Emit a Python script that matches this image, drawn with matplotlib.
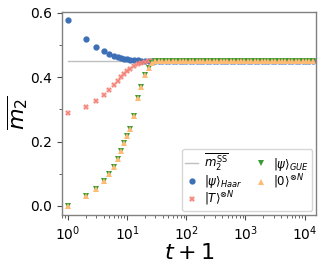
import matplotlib
matplotlib.use("Agg")
import matplotlib.pyplot as plt
from matplotlib.ticker import MultipleLocator

# time grid (t + 1)
t1 = [1, 2, 3, 4, 5, 6, 7, 8, 9, 10, 11,
      13, 15, 17, 20, 23, 26, 30, 34, 39, 45,
      51, 59, 67, 77, 88, 100, 115, 131, 150, 171,
      195, 223, 255, 291, 332, 380, 434, 495, 566, 646,
      738, 843, 963, 1100, 1256, 1435, 1639, 1872, 2138, 2442,
      2789, 3186, 3639, 4156, 4747, 5422, 6193, 7073, 8079, 9228,
      10540, 12039, 13750]

m2_ss = 0.45

haar = [0.577, 0.519, 0.495, 0.482, 0.473, 0.467, 0.4625, 0.460, 0.458, 0.456, 0.455,
        0.453, 0.452, 0.451, 0.4505, 0.450, 0.450, 0.450, 0.450, 0.450, 0.450,
        0.450, 0.450, 0.450, 0.450, 0.450, 0.450, 0.450, 0.450, 0.450, 0.450,
        0.450, 0.450, 0.450, 0.450, 0.450, 0.450, 0.450, 0.450, 0.450, 0.450,
        0.450, 0.450, 0.450, 0.450, 0.450, 0.450, 0.450, 0.450, 0.450, 0.450,
        0.450, 0.450, 0.450, 0.450, 0.450, 0.450, 0.450, 0.450, 0.450, 0.450,
        0.450, 0.450, 0.450]

tstate = [0.288, 0.307, 0.327, 0.344, 0.361, 0.375, 0.388, 0.400, 0.410, 0.420, 0.427,
          0.434, 0.440, 0.445, 0.448, 0.450, 0.450, 0.450, 0.450, 0.450, 0.450,
          0.450, 0.450, 0.450, 0.450, 0.450, 0.450, 0.450, 0.450, 0.450, 0.450,
          0.450, 0.450, 0.450, 0.450, 0.450, 0.450, 0.450, 0.450, 0.450, 0.450,
          0.450, 0.450, 0.450, 0.450, 0.450, 0.450, 0.450, 0.450, 0.450, 0.450,
          0.450, 0.450, 0.450, 0.450, 0.450, 0.450, 0.450, 0.450, 0.450, 0.450,
          0.450, 0.450, 0.450]

gue = [0.000, 0.030, 0.052, 0.076, 0.100, 0.122, 0.146, 0.170, 0.196, 0.216, 0.2375,
       0.279, 0.336, 0.370, 0.406, 0.429, 0.443, 0.449, 0.450, 0.450, 0.450,
       0.450, 0.450, 0.450, 0.450, 0.450, 0.450, 0.450, 0.450, 0.450, 0.450,
       0.450, 0.450, 0.450, 0.450, 0.450, 0.450, 0.450, 0.450, 0.450, 0.450,
       0.450, 0.450, 0.450, 0.450, 0.450, 0.450, 0.450, 0.450, 0.450, 0.450,
       0.450, 0.450, 0.450, 0.450, 0.450, 0.450, 0.450, 0.450, 0.450, 0.450,
       0.450, 0.450, 0.450]

zero = [0.000, 0.030, 0.052, 0.076, 0.100, 0.122, 0.146, 0.170, 0.196, 0.216, 0.2375,
        0.279, 0.336, 0.370, 0.406, 0.429, 0.443, 0.449, 0.450, 0.450, 0.450,
        0.450, 0.450, 0.450, 0.450, 0.450, 0.450, 0.450, 0.450, 0.450, 0.450,
        0.450, 0.450, 0.450, 0.450, 0.450, 0.450, 0.450, 0.450, 0.450, 0.450,
        0.450, 0.450, 0.450, 0.450, 0.450, 0.450, 0.450, 0.450, 0.450, 0.450,
        0.450, 0.450, 0.450, 0.450, 0.450, 0.450, 0.450, 0.450, 0.450, 0.450,
        0.450, 0.450, 0.450]

fig = plt.figure(figsize=(3.24, 2.70), dpi=100)
ax = fig.add_axes([0.191, 0.204, 0.784, 0.752])

ax.plot([t1[0], t1[-1]], [m2_ss, m2_ss], color="0.75", lw=1.0,
        label=r"$\overline{m_2^{\mathrm{SS}}}$")
ax.plot(t1, haar, "o", ms=3.5, color="#3d6fb6", ls="none",
        label=r"$|\psi\rangle_{Haar}$")
ax.plot(t1, tstate, "X", ms=4.2, color="#f4847a", mew=0, ls="none",
        label=r"$|T\rangle^{\otimes N}$")
ax.plot(t1, gue, "v", ms=4.2, color="#3a9a35", mew=0, ls="none",
        label=r"$|\psi\rangle_{GUE}$")
ax.plot(t1, zero, "^", ms=4.2, color="#fdbb74", mew=0, ls="none",
        label=r"$|0\rangle^{\otimes N}$")

ax.set_xscale("log")
ax.set_xlim(0.79, 1.55e4)
ax.set_ylim(-0.028, 0.603)
ax.yaxis.set_major_locator(MultipleLocator(0.2))
ax.yaxis.set_minor_locator(MultipleLocator(0.1))

for s in ax.spines.values():
    s.set_color("0.5")
    s.set_linewidth(1.0)
ax.tick_params(which="major", labelsize=10, length=3.5, color="0.3", width=0.8)
ax.tick_params(which="minor", length=2, color="0.3", width=0.6)

ax.set_xlabel(r"$t+1$", fontsize=16, labelpad=0)
ax.set_ylabel(r"$\overline{m_2}$", fontsize=16, labelpad=0)

ax.legend(loc="lower right", ncol=2, fontsize=8.5, handlelength=1.1,
          handletextpad=0.5, columnspacing=1.0, labelspacing=0.0,
          borderpad=0.25, borderaxespad=0.3)

fig.savefig("out.png", dpi=100)
